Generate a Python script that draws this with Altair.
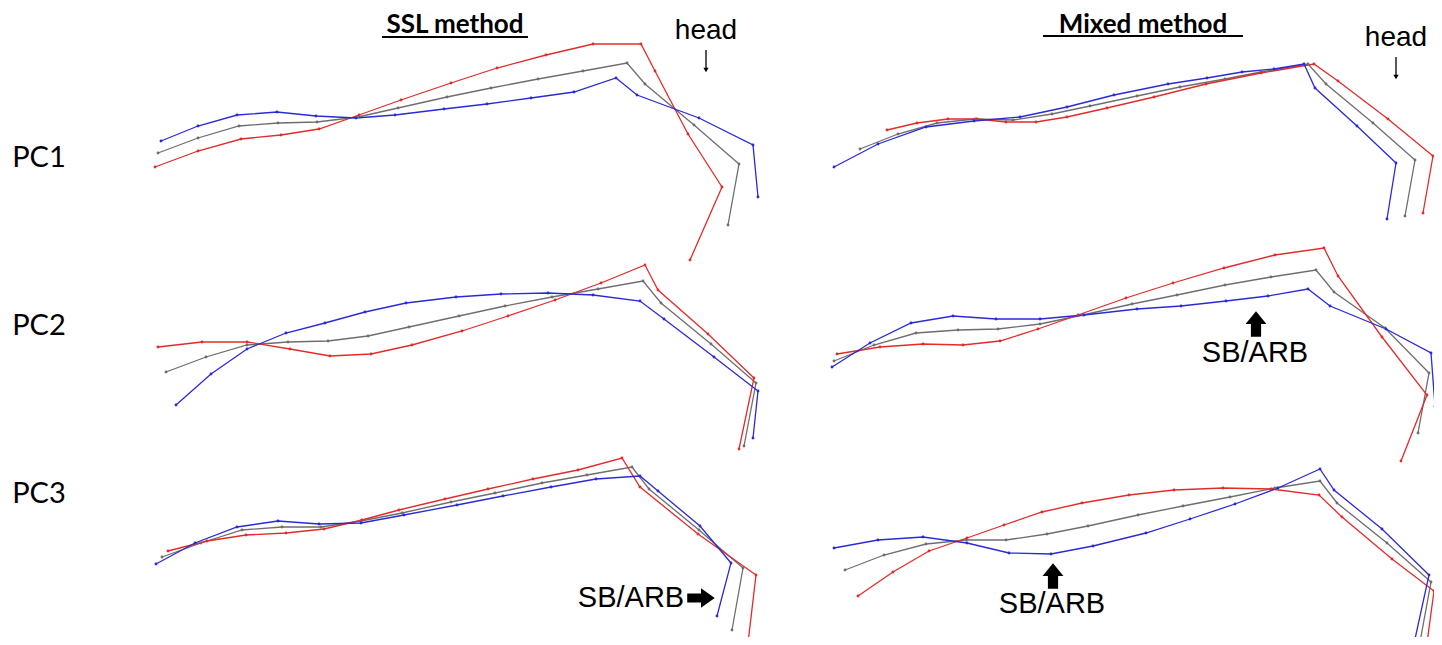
import altair as alt
import pandas as pd

# ---- Data: vertex positions (x to the right, y downward) ----
SSL_PC1_RED_X = [155, 198, 241, 281, 319, 359, 401, 451, 497, 546, 593, 641, 655, 688, 722, 690]
SSL_PC1_RED_Y = [167, 151, 139, 135, 129, 115, 100, 83, 68, 55, 44, 44, 71, 134, 187, 260]
SSL_PC1_GRAY_X = [158, 198, 239, 278, 317, 358, 398, 447, 491, 538, 583, 627, 645, 694, 739, 728]
SSL_PC1_GRAY_Y = [153, 138, 126, 123, 122, 117, 108, 97, 88, 79, 71, 63, 84, 125, 164, 225]
SSL_PC1_BLUE_X = [161, 198, 237, 277, 316, 356, 395, 444, 487, 531, 574, 616, 637, 699, 753, 758]
SSL_PC1_BLUE_Y = [141, 126, 115, 112, 116, 118, 115, 109, 104, 98, 92, 78, 95, 118, 145, 197]

MIX_PC1_RED_X = [887, 917, 948, 977, 1006, 1036, 1067, 1107, 1154, 1206, 1261, 1314, 1338, 1388, 1433, 1423]
MIX_PC1_RED_Y = [130, 123, 119, 119, 122, 122, 117, 108, 97, 84, 73, 64, 81, 119, 156, 213]
MIX_PC1_GRAY_X = [860, 898, 937, 975, 1013, 1052, 1090, 1137, 1180, 1225, 1261, 1308, 1326, 1373, 1415, 1405]
MIX_PC1_GRAY_Y = [149, 134, 123, 119, 120, 114, 106, 96, 87, 79, 72, 64, 84, 123, 160, 216]
MIX_PC1_BLUE_X = [834, 878, 926, 974, 1020, 1067, 1114, 1168, 1207, 1242, 1274, 1304, 1315, 1357, 1396, 1387]
MIX_PC1_BLUE_Y = [167, 144, 127, 121, 117, 107, 95, 84, 78, 72, 69, 64, 88, 126, 163, 219]

SSL_PC2_RED_X = [158, 202, 247, 290, 330, 371, 412, 462, 508, 555, 601, 645, 658, 708, 754, 739]
SSL_PC2_RED_Y = [347, 342, 342, 349, 356, 354, 345, 331, 316, 300, 283, 265, 290, 334, 378, 449]
SSL_PC2_GRAY_X = [166, 206, 247, 288, 328, 368, 409, 459, 505, 552, 598, 643, 661, 711, 756, 744]
SSL_PC2_GRAY_Y = [372, 357, 345, 342, 341, 336, 327, 316, 306, 297, 289, 281, 303, 344, 383, 446]
SSL_PC2_BLUE_X = [176, 211, 247, 286, 325, 365, 406, 456, 501, 548, 593, 640, 664, 714, 758, 753]
SSL_PC2_BLUE_Y = [405, 374, 349, 333, 323, 312, 303, 297, 294, 293, 295, 301, 319, 357, 391, 438]

MIX_PC2_RED_X = [837, 880, 923, 963, 1000, 1038, 1078, 1126, 1173, 1224, 1275, 1324, 1338, 1382, 1427, 1401]
MIX_PC2_RED_Y = [354, 347, 344, 345, 341, 329, 315, 298, 283, 268, 255, 248, 276, 337, 395, 461]
MIX_PC2_GRAY_X = [834, 874, 916, 958, 998, 1040, 1083, 1132, 1177, 1225, 1271, 1316, 1334, 1385, 1429, 1418]
MIX_PC2_GRAY_Y = [361, 345, 333, 330, 329, 324, 315, 304, 295, 285, 277, 270, 292, 328, 373, 433]
MIX_PC2_BLUE_X = [832, 870, 911, 953, 996, 1040, 1084, 1137, 1181, 1226, 1268, 1308, 1330, 1386, 1431, 1435]
MIX_PC2_BLUE_Y = [367, 343, 323, 316, 319, 319, 315, 309, 306, 301, 296, 289, 306, 329, 353, 406]

SSL_PC3_RED_X = [168, 207, 246, 286, 324, 362, 399, 445, 488, 533, 578, 622, 640, 698, 756, 748]
SSL_PC3_RED_Y = [551, 541, 535, 533, 529, 520, 510, 499, 489, 479, 470, 458, 487, 534, 575, 643]
SSL_PC3_GRAY_X = [162, 201, 242, 282, 321, 361, 402, 451, 495, 542, 587, 632, 649, 699, 743, 732]
SSL_PC3_GRAY_Y = [557, 543, 530, 527, 527, 521, 513, 502, 493, 483, 475, 467, 489, 530, 568, 630]
SSL_PC3_BLUE_X = [156, 195, 237, 278, 319, 361, 404, 457, 503, 551, 596, 640, 658, 700, 731, 717]
SSL_PC3_BLUE_Y = [564, 543, 527, 521, 524, 523, 515, 505, 496, 487, 479, 476, 491, 526, 563, 616]

MIX_PC3_RED_X = [858, 893, 929, 967, 1004, 1042, 1082, 1129, 1174, 1223, 1271, 1319, 1342, 1392, 1434, 1427]
MIX_PC3_RED_Y = [596, 572, 551, 538, 525, 512, 503, 495, 490, 488, 489, 495, 517, 559, 591, 643]
MIX_PC3_GRAY_X = [845, 884, 926, 966, 1006, 1047, 1088, 1138, 1183, 1230, 1275, 1320, 1337, 1387, 1431, 1420]
MIX_PC3_GRAY_Y = [570, 555, 544, 540, 540, 534, 526, 515, 506, 497, 488, 481, 503, 543, 582, 642]
MIX_PC3_BLUE_X = [834, 878, 923, 967, 1009, 1051, 1093, 1146, 1190, 1235, 1278, 1320, 1334, 1382, 1429, 1415]
MIX_PC3_BLUE_Y = [548, 540, 537, 543, 553, 554, 546, 533, 519, 504, 488, 469, 490, 529, 575, 639]

SERIES = ["gray", "red", "blue"]
SERIES_COLORS = ["#6e6e6e", "#e32b2b", "#2a2ad8"]

# Text annotations
TITLES = ["SSL method", "Mixed method"]
TITLE_X = [455, 1143]
TITLE_Y = [25, 25]
UNDERLINE_X1 = [382, 1043]
UNDERLINE_X2 = [528, 1243]
UNDERLINE_Y = [37, 36]

PC_LABELS = ["PC1", "PC2", "PC3"]
PC_X = [39, 39, 39]
PC_Y = [158, 326, 494]

HEAD_TEXT = ["head", "head"]
HEAD_X = [706, 1396]
HEAD_Y = [31, 38]
HEAD_ARROW_Y1 = [50, 57]
HEAD_ARROW_Y2 = [70, 77]

SB_TEXT = ["SB/ARB", "SB/ARB", "SB/ARB"]
SB_X = [1255, 631, 1052]
SB_Y = [353, 598, 604]
UP_ARROW_X = [1256, 1053]
UP_ARROW_Y = [324, 576]
RIGHT_ARROW_X = [701]
RIGHT_ARROW_Y = [598]

# ---- Build tables ----
panels = {
    "SSL_PC1": (SSL_PC1_RED_X, SSL_PC1_RED_Y, SSL_PC1_GRAY_X, SSL_PC1_GRAY_Y, SSL_PC1_BLUE_X, SSL_PC1_BLUE_Y),
    "MIX_PC1": (MIX_PC1_RED_X, MIX_PC1_RED_Y, MIX_PC1_GRAY_X, MIX_PC1_GRAY_Y, MIX_PC1_BLUE_X, MIX_PC1_BLUE_Y),
    "SSL_PC2": (SSL_PC2_RED_X, SSL_PC2_RED_Y, SSL_PC2_GRAY_X, SSL_PC2_GRAY_Y, SSL_PC2_BLUE_X, SSL_PC2_BLUE_Y),
    "MIX_PC2": (MIX_PC2_RED_X, MIX_PC2_RED_Y, MIX_PC2_GRAY_X, MIX_PC2_GRAY_Y, MIX_PC2_BLUE_X, MIX_PC2_BLUE_Y),
    "SSL_PC3": (SSL_PC3_RED_X, SSL_PC3_RED_Y, SSL_PC3_GRAY_X, SSL_PC3_GRAY_Y, SSL_PC3_BLUE_X, SSL_PC3_BLUE_Y),
    "MIX_PC3": (MIX_PC3_RED_X, MIX_PC3_RED_Y, MIX_PC3_GRAY_X, MIX_PC3_GRAY_Y, MIX_PC3_BLUE_X, MIX_PC3_BLUE_Y),
}
rows = []
for pname, (rx, ry, gx, gy, bx, by) in panels.items():
    for sname, xs_, ys_ in (("gray", gx, gy), ("red", rx, ry), ("blue", bx, by)):
        for i, (a, b) in enumerate(zip(xs_, ys_)):
            rows.append({"panel": pname, "series": sname, "key": pname + "_" + sname,
                         "i": i, "x": a, "y": b})
lines_df = pd.DataFrame(rows)

xscale = alt.Scale(domain=[8, 1434], nice=False, zero=False)
yscale = alt.Scale(domain=[8, 637], nice=False, zero=False, reverse=True)


def X(f="x"):
    return alt.X(f + ":Q", scale=xscale, axis=None)


def Y(f="y"):
    return alt.Y(f + ":Q", scale=yscale, axis=None)


color = alt.Color("series:N", scale=alt.Scale(domain=SERIES, range=SERIES_COLORS), legend=None)

lines = alt.Chart(lines_df).mark_line(strokeWidth=1.3, clip=False).encode(
    x=X(), y=Y(), color=color, detail="key:N", order="i:Q")
dots = alt.Chart(lines_df).mark_circle(size=8, opacity=1, clip=False).encode(
    x=X(), y=Y(), color=color, detail="key:N")

titles_df = pd.DataFrame({"x": TITLE_X, "y": TITLE_Y, "t": TITLES})
titles = alt.Chart(titles_df).mark_text(font="Lato", fontWeight="bold", fontSize=26,
                                        align="center", baseline="middle", color="black").encode(
    x=X(), y=Y(), text="t:N")
ul_df = pd.DataFrame({"x": UNDERLINE_X1, "x2": UNDERLINE_X2, "y": UNDERLINE_Y})
underlines = alt.Chart(ul_df).mark_rule(strokeWidth=2, color="black").encode(
    x=X(), x2=alt.X2("x2:Q"), y=Y())

pc_df = pd.DataFrame({"x": PC_X, "y": PC_Y, "t": PC_LABELS})
pcs = alt.Chart(pc_df).mark_text(font="Lato", fontSize=29, align="center", baseline="middle",
                                 color="black").encode(x=X(), y=Y(), text="t:N")

head_df = pd.DataFrame({"x": HEAD_X, "y": HEAD_Y, "t": HEAD_TEXT,
                        "y1": HEAD_ARROW_Y1, "y2": HEAD_ARROW_Y2})
heads = alt.Chart(head_df).mark_text(font="Liberation Sans", fontSize=28, align="center",
                                     baseline="middle", color="black").encode(x=X(), y=Y(), text="t:N")
head_shafts = alt.Chart(head_df).mark_rule(strokeWidth=1.3, color="black").encode(
    x=X(), y=Y("y1"), y2=alt.Y2("y2:Q"))
head_tips = alt.Chart(head_df).mark_point(shape="triangle-down", filled=True, size=28,
                                          color="black", opacity=1).encode(x=X(), y=Y("y2"))

sb_df = pd.DataFrame({"x": SB_X, "y": SB_Y, "t": SB_TEXT})
sbs = alt.Chart(sb_df).mark_text(font="Liberation Sans", fontSize=29, align="center",
                                 baseline="middle", color="black").encode(x=X(), y=Y(), text="t:N")

up_df = pd.DataFrame({"x": UP_ARROW_X, "y": UP_ARROW_Y})
up_arrows = alt.Chart(up_df).mark_point(
    shape="M-0.4,1 L-0.4,0 L-0.82,0 L0,-1 L0.82,0 L0.4,0 L0.4,1 Z",
    filled=True, size=650, color="black", opacity=1, strokeWidth=0).encode(x=X(), y=Y())
right_df = pd.DataFrame({"x": RIGHT_ARROW_X, "y": RIGHT_ARROW_Y})
right_arrows = alt.Chart(right_df).mark_point(
    shape="M-1,-0.33 L0,-0.33 L0,-0.7 L1,0 L0,0.7 L0,0.33 L-1,0.33 Z",
    filled=True, size=760, color="black", opacity=1, strokeWidth=0).encode(x=X(), y=Y())

chart = alt.layer(
    lines, dots, titles, underlines, pcs, heads, head_shafts, head_tips, sbs, up_arrows, right_arrows
).properties(
    width=1426, height=629, padding=0,
    autosize=alt.AutoSizeParams(type="none"),
    background="white",
).configure_view(stroke=None)

chart.save("out.html", embed_options={"renderer": "svg", "actions": False})
